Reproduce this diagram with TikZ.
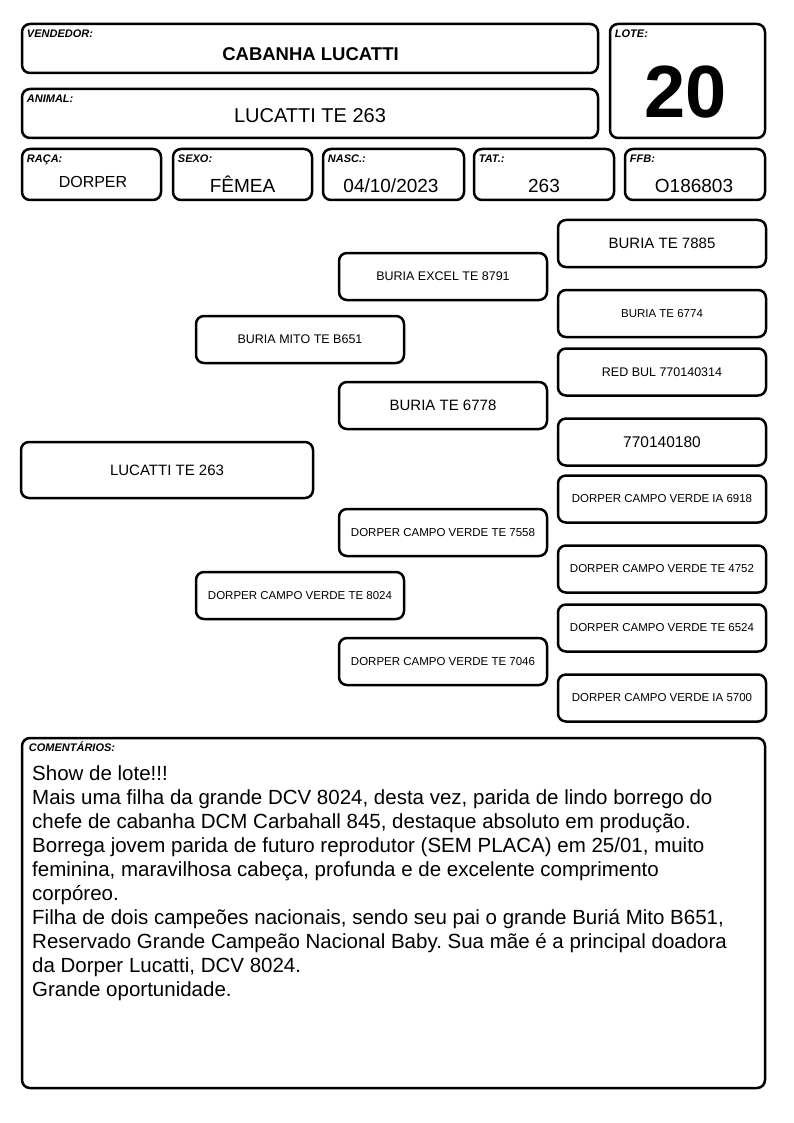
\documentclass[tikz,border=0pt]{standalone}
\usepackage{fontspec}
\setmainfont{Liberation Sans}
\frenchspacing
\newcommand{\tam}[1]{\fontsize{#1}{#1}\selectfont}
\tikzset{
	caixa/.style={draw, line width=2.5pt, rounded corners=8pt, inner sep=0pt, align=center},
	rotulo/.style={anchor=base west, inner sep=0pt, font=\tam{11}\bfseries\itshape},
	valor/.style={anchor=base, inner sep=0pt},
	genealogia/.style={caixa, minimum width=208, minimum height=47},
}

\begin{document}
\begin{tikzpicture}[x=1pt,y=-1pt]
			\useasboundingbox (0,0) rectangle (794,1123);
			% cabecalho
			\node[caixa, minimum width=576, minimum height=49] (vendedor) at (310,48.5) {};
			\node[caixa, minimum width=576, minimum height=49] (animal) at (310,113.5) {};
			\node[caixa, minimum width=155, minimum height=114] (lote) at (687.5,81) {};
			\node[caixa, minimum width=139, minimum height=51] (raca) at (91.5,174.5) {};
			\node[caixa, minimum width=139, minimum height=51] (sexo) at (242.5,174.5) {};
			\node[caixa, minimum width=141, minimum height=51] (nasc) at (393.5,174.5) {};
			\node[caixa, minimum width=140, minimum height=51] (tat) at (544,174.5) {};
			\node[caixa, minimum width=140, minimum height=51] (ffb) at (695,174.5) {};
			\node[rotulo] (rvendedor) at ([shift={(6,15)}]vendedor.north west) {VENDEDOR:};
			\node[rotulo] (ranimal) at ([shift={(6,15)}]animal.north west) {ANIMAL:};
			\node[rotulo] (rlote) at ([shift={(6,15)}]lote.north west) {LOTE:};
			\node[rotulo] (rraca) at ([shift={(6,15)}]raca.north west) {RAÇA:};
			\node[rotulo] (rsexo) at ([shift={(6,15)}]sexo.north west) {SEXO:};
			\node[rotulo] (rnasc) at ([shift={(6,15)}]nasc.north west) {NASC.:};
			\node[rotulo] (rtat) at ([shift={(6,15)}]tat.north west) {TAT.:};
			\node[rotulo] (rffb) at ([shift={(6,15)}]ffb.north west) {FFB:};
			\node[valor, font=\tam{18.5}\bfseries] (nvendedor) at (310.5,60.7) {CABANHA LUCATTI};
			\node[valor, font=\tam{20}] (nanimal) at (310,123) {LUCATTI TE 263};
			\node[valor, font=\tam{74}\bfseries] (nlote) at (686,118) {20};
			\node[valor, font=\tam{16}] (nraca) at (93,188) {DORPER};
			\node[valor, font=\tam{19}] (nsexo) at (242.5,193) {FÊMEA};
			\node[valor, font=\tam{19}] (nnasc) at (391,193) {04/10/2023};
			\node[valor, font=\tam{19}] (ntat) at (544,193) {263};
			\node[valor, font=\tam{19}] (nffb) at (694,193) {O186803};
			% genealogia
			\node[caixa, minimum width=292, minimum height=56, font=\tam{15}] (filho) at (167,470) {LUCATTI TE 263};
			\node[genealogia, font=\tam{12.5}] (pai) at (300,339.5) {BURIA MITO TE B651};
			\node[genealogia, font=\tam{11.5}] (mae) at (300,595.5) {DORPER CAMPO VERDE TE 8024};
			\node[genealogia, font=\tam{12.5}] (avopp) at (443,276.5) {BURIA EXCEL TE 8791};
			\node[genealogia, font=\tam{15}] (avopm) at (443,405.5) {BURIA TE 6778};
			\node[genealogia, font=\tam{11.5}] (avomp) at (443,532.5) {DORPER CAMPO VERDE TE 7558};
			\node[genealogia, font=\tam{11.5}] (avomm) at (443,661.5) {DORPER CAMPO VERDE TE 7046};
			\node[genealogia, font=\tam{15}] (bisa1) at (662,243.5) {BURIA TE 7885};
			\node[genealogia, font=\tam{11.5}] (bisa2) at (662,313.5) {BURIA TE 6774};
			\node[genealogia, font=\tam{12.5}] (bisa3) at (662,372) {RED BUL 770140314};
			\node[genealogia, font=\tam{15.5}] (bisa4) at (662,442) {770140180};
			\node[genealogia, font=\tam{11.5}] (bisa5) at (662,499) {DORPER CAMPO VERDE IA 6918};
			\node[genealogia, font=\tam{11.5}] (bisa6) at (662,569) {DORPER CAMPO VERDE TE 4752};
			\node[genealogia, font=\tam{11.5}] (bisa7) at (662,628) {DORPER CAMPO VERDE TE 6524};
			\node[genealogia, font=\tam{11.5}] (bisa8) at (662,698) {DORPER CAMPO VERDE IA 5700};
			% comentarios
			\node[caixa, minimum width=743, minimum height=350] (comentarios) at (393.5,913) {};
			\node[rotulo] (rcomentarios) at ([shift={(8,15)}]comentarios.north west) {COMENTÁRIOS:};
			\foreach \linha [count=\i] in {
				{Show de lote!!!},
				{Mais uma filha da grande DCV 8024, desta vez, parida de lindo borrego do},
				{chefe de cabanha DCM Carbahall 845, destaque absoluto em produção.},
				{Borrega jovem parida de futuro reprodutor (SEM PLACA) em 25/01, muito},
				{feminina, maravilhosa cabeça, profunda e de excelente comprimento},
				{corpóreo.},
				{Filha de dois campeões nacionais, sendo seu pai o grande Buriá Mito B651,},
				{Reservado Grande Campeão Nacional Baby. Sua mãe é a principal doadora},
				{da Dorper Lucatti, DCV 8024.},
				{Grande oportunidade.}}
				\node[anchor=base west, inner sep=0pt, font=\tam{20.5}] (linha\i) at (32,756+24*\i) {\linha};
		\end{tikzpicture}
\end{document}
